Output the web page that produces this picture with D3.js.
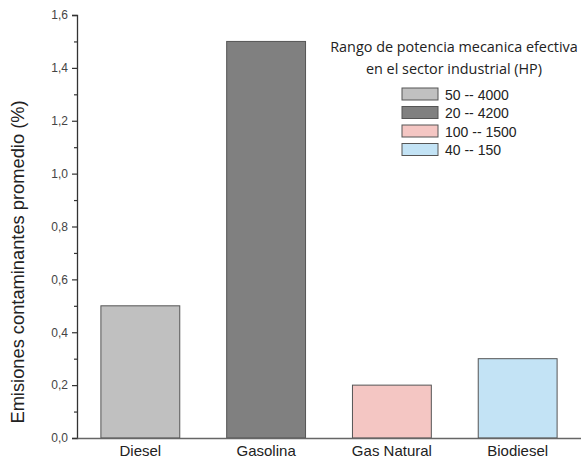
<!DOCTYPE html>
<html><head><meta charset="utf-8">
<script src="https://cdn.jsdelivr.net/npm/d3@7"></script>
<style>body{margin:0;background:#fff}svg{display:block}</style>
</head><body>
<svg id="c" width="581" height="461"></svg>
<script>
const categories = ["Diesel", "Gasolina", "Gas Natural", "Biodiesel"];
const values = [0.5, 1.5, 0.2, 0.3];
const colors = ["#c0c0c0", "#808080", "#f4c6c3", "#c3e3f5"];
const legendLabels = ["50 -- 4000", "20 -- 4200", "100 -- 1500", "40 -- 150"];
const legendTitle = ["Rango de potencia mecanica efectiva", "en el sector industrial (HP)"];
const yTicks = [0, 0.2, 0.4, 0.6, 0.8, 1.0, 1.2, 1.4, 1.6];
const yMinorTicks = [0.1, 0.3, 0.5, 0.7, 0.9, 1.1, 1.3, 1.5];
const yTitle = "Emisiones contaminantes promedio (%)";

const svg = d3.select("#c");
const x = d3.scaleBand().domain(categories).range([77, 581]).paddingInner(0.373).paddingOuter(0.19);
const y = d3.scaleLinear().domain([0, 1.6]).range([438, 15]);

// bars
svg.append("g").selectAll("rect").data(categories).join("rect")
  .attr("x", d => x(d)).attr("width", x.bandwidth())
  .attr("y", (d, i) => y(values[i])).attr("height", (d, i) => y(0) - y(values[i]))
  .attr("fill", (d, i) => colors[i]).attr("stroke", "#555").attr("stroke-width", 1);

// y axis
const fmt = d => d3.format(".1f")(d).replace(".", ",");
const gy = svg.append("g").attr("transform", "translate(77,0)")
  .call(d3.axisLeft(y).tickValues(yTicks).tickFormat(fmt).tickSize(5).tickPadding(4));
gy.select(".domain").attr("stroke", "#333").attr("stroke-width", 1.3);
gy.selectAll(".tick line").attr("stroke", "#333").attr("stroke-width", 1.2);
gy.selectAll(".tick text").attr("font-family", "Liberation Sans, Arial, sans-serif").attr("font-size", 12).attr("fill", "#444");
const gm = svg.append("g").attr("transform", "translate(77,0)")
  .call(d3.axisLeft(y).tickValues(yMinorTicks).tickFormat("").tickSize(3));
gm.select(".domain").remove();
gm.selectAll(".tick line").attr("stroke", "#333").attr("stroke-width", 1.2);

// x axis
const gx = svg.append("g").attr("transform", "translate(0,438)")
  .call(d3.axisBottom(x).tickSize(0).tickPadding(7));
gx.select(".domain").attr("stroke", "#666").attr("stroke-width", 1.3);
gx.selectAll(".tick text").attr("font-family", "Liberation Sans, Arial, sans-serif").attr("font-size", 15).attr("fill", "#222");

// y title
svg.append("text").attr("transform", "translate(24,262) rotate(-90)")
  .attr("text-anchor", "middle").attr("font-family", "Liberation Sans, Arial, sans-serif")
  .attr("font-size", 18.3).attr("fill", "#222").text(yTitle);

// legend
const lg = svg.append("g");
lg.selectAll("text.t").data(legendTitle).join("text").attr("class", "t")
  .attr("x", 454).attr("y", (d, i) => 52 + i * 22).attr("text-anchor", "middle")
  .attr("font-family", "Open Sans, sans-serif").attr("font-size", 14.4).attr("fill", "#222").text(d => d);
const rows = lg.selectAll("g.r").data(legendLabels).join("g").attr("class", "r")
  .attr("transform", (d, i) => `translate(402,${88 + i * 18.5})`);
rows.append("rect").attr("width", 36).attr("height", 12)
  .attr("fill", (d, i) => colors[i]).attr("stroke", "#555").attr("stroke-width", 1);
rows.append("text").attr("x", 43).attr("y", 11.5).attr("font-family", "Liberation Sans, Arial, sans-serif")
  .attr("font-size", 14).attr("fill", "#222").text(d => d);
</script>
</body></html>
